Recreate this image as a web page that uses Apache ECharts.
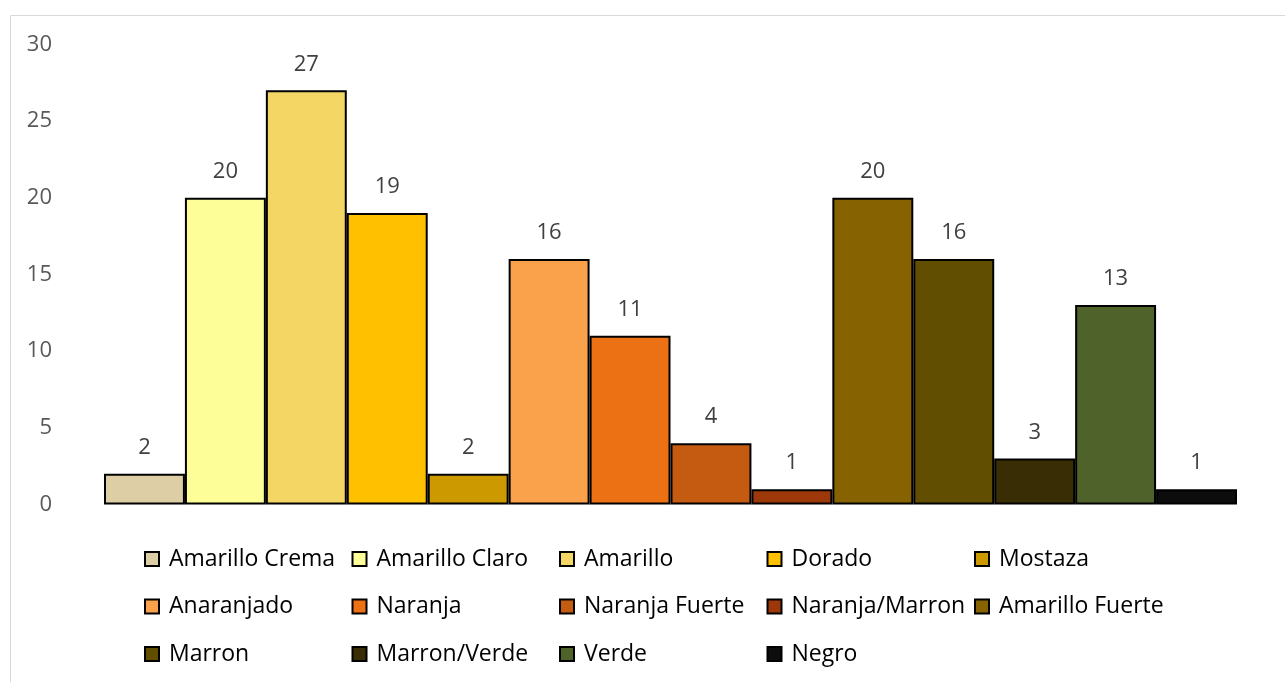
<!DOCTYPE html>
<html>
<head>
<meta charset="utf-8">
<title>Colores</title>
<script src="https://cdn.jsdelivr.net/npm/echarts@6/dist/echarts.min.js"></script>
<style>
  html, body { margin: 0; padding: 0; background: #fff; }
  #chart { width: 1285px; height: 682px; }
</style>
</head>
<body>
<div id="chart"></div>
<script>
// Color names and counts, one bar per color
const colorNames = [
  'Amarillo Crema', 'Amarillo Claro', 'Amarillo', 'Dorado', 'Mostaza',
  'Anaranjado', 'Naranja', 'Naranja Fuerte', 'Naranja/Marron', 'Amarillo Fuerte',
  'Marron', 'Marron/Verde', 'Verde', 'Negro'
];
const counts = [2, 20, 27, 19, 2, 16, 11, 4, 1, 20, 16, 3, 13, 1];
const fills = [
  '#DDCEA6', '#FEFE99', '#F3D664', '#FFC000', '#CC9A00',
  '#FAA24B', '#EC7115', '#C55A11', '#9C380A', '#866300',
  '#624E00', '#382D05', '#4F6229', '#0D0D0D'
];
const yTicks = { min: 0, max: 30, step: 5 };

const chart = echarts.init(document.getElementById('chart'), null, { renderer: 'canvas' });

const FONT = '"Open Sans", "Noto Sans", sans-serif';

const series = colorNames.map((name, i) => ({
  name: name,
  type: 'bar',
  data: [counts[i]],
  barGap: '0%',
  barCategoryGap: '0%',
  itemStyle: { color: fills[i], borderColor: '#000', borderWidth: 2 },
  label: {
    show: true,
    position: 'top',
    distance: 15,
    color: '#404040',
    fontFamily: FONT,
    fontSize: 22
  },
  emphasis: { disabled: true }
}));

// Legend laid out as a 5-column grid below the plot
const legendCols = 5;
const legends = colorNames.map((name, i) => {
  const col = i % legendCols;
  const row = Math.floor(i / legendCols);
  return {
    data: [name],
    left: 144 + col * 207.5,
    top: 547 + row * 47.5,
    padding: 0,
    icon: 'rect',
    itemWidth: 14,
    itemHeight: 14,
    selectedMode: false,
    textStyle: {
      color: '#000',
      fontFamily: FONT,
      fontSize: 23,
      lineHeight: 24,
      padding: [0, 0, 0, 5]
    }
  };
});

chart.setOption({
  backgroundColor: '#fff',
  animation: false,
  grid: { left: 104, right: 48, top: 44.3, bottom: 177.5, containLabel: false },
  xAxis: {
    type: 'category',
    data: [''],
    axisLine: { show: false },
    axisTick: { show: false },
    axisLabel: { show: false }
  },
  yAxis: {
    type: 'value',
    min: yTicks.min,
    max: yTicks.max,
    interval: yTicks.step,
    splitLine: { show: false },
    axisLine: { show: false },
    axisTick: { show: false },
    axisLabel: {
      margin: 52,
      color: '#595959',
      fontFamily: FONT,
      fontSize: 22
    }
  },
  legend: legends,
  series: series,
  graphic: [
    {
      type: 'polyline',
      silent: true,
      shape: { points: [[10.5, 690], [10.5, 15.5], [1290, 15.5]] },
      style: { stroke: '#d9d9d9', lineWidth: 1, fill: null }
    }
  ]
});
</script>
</body>
</html>
